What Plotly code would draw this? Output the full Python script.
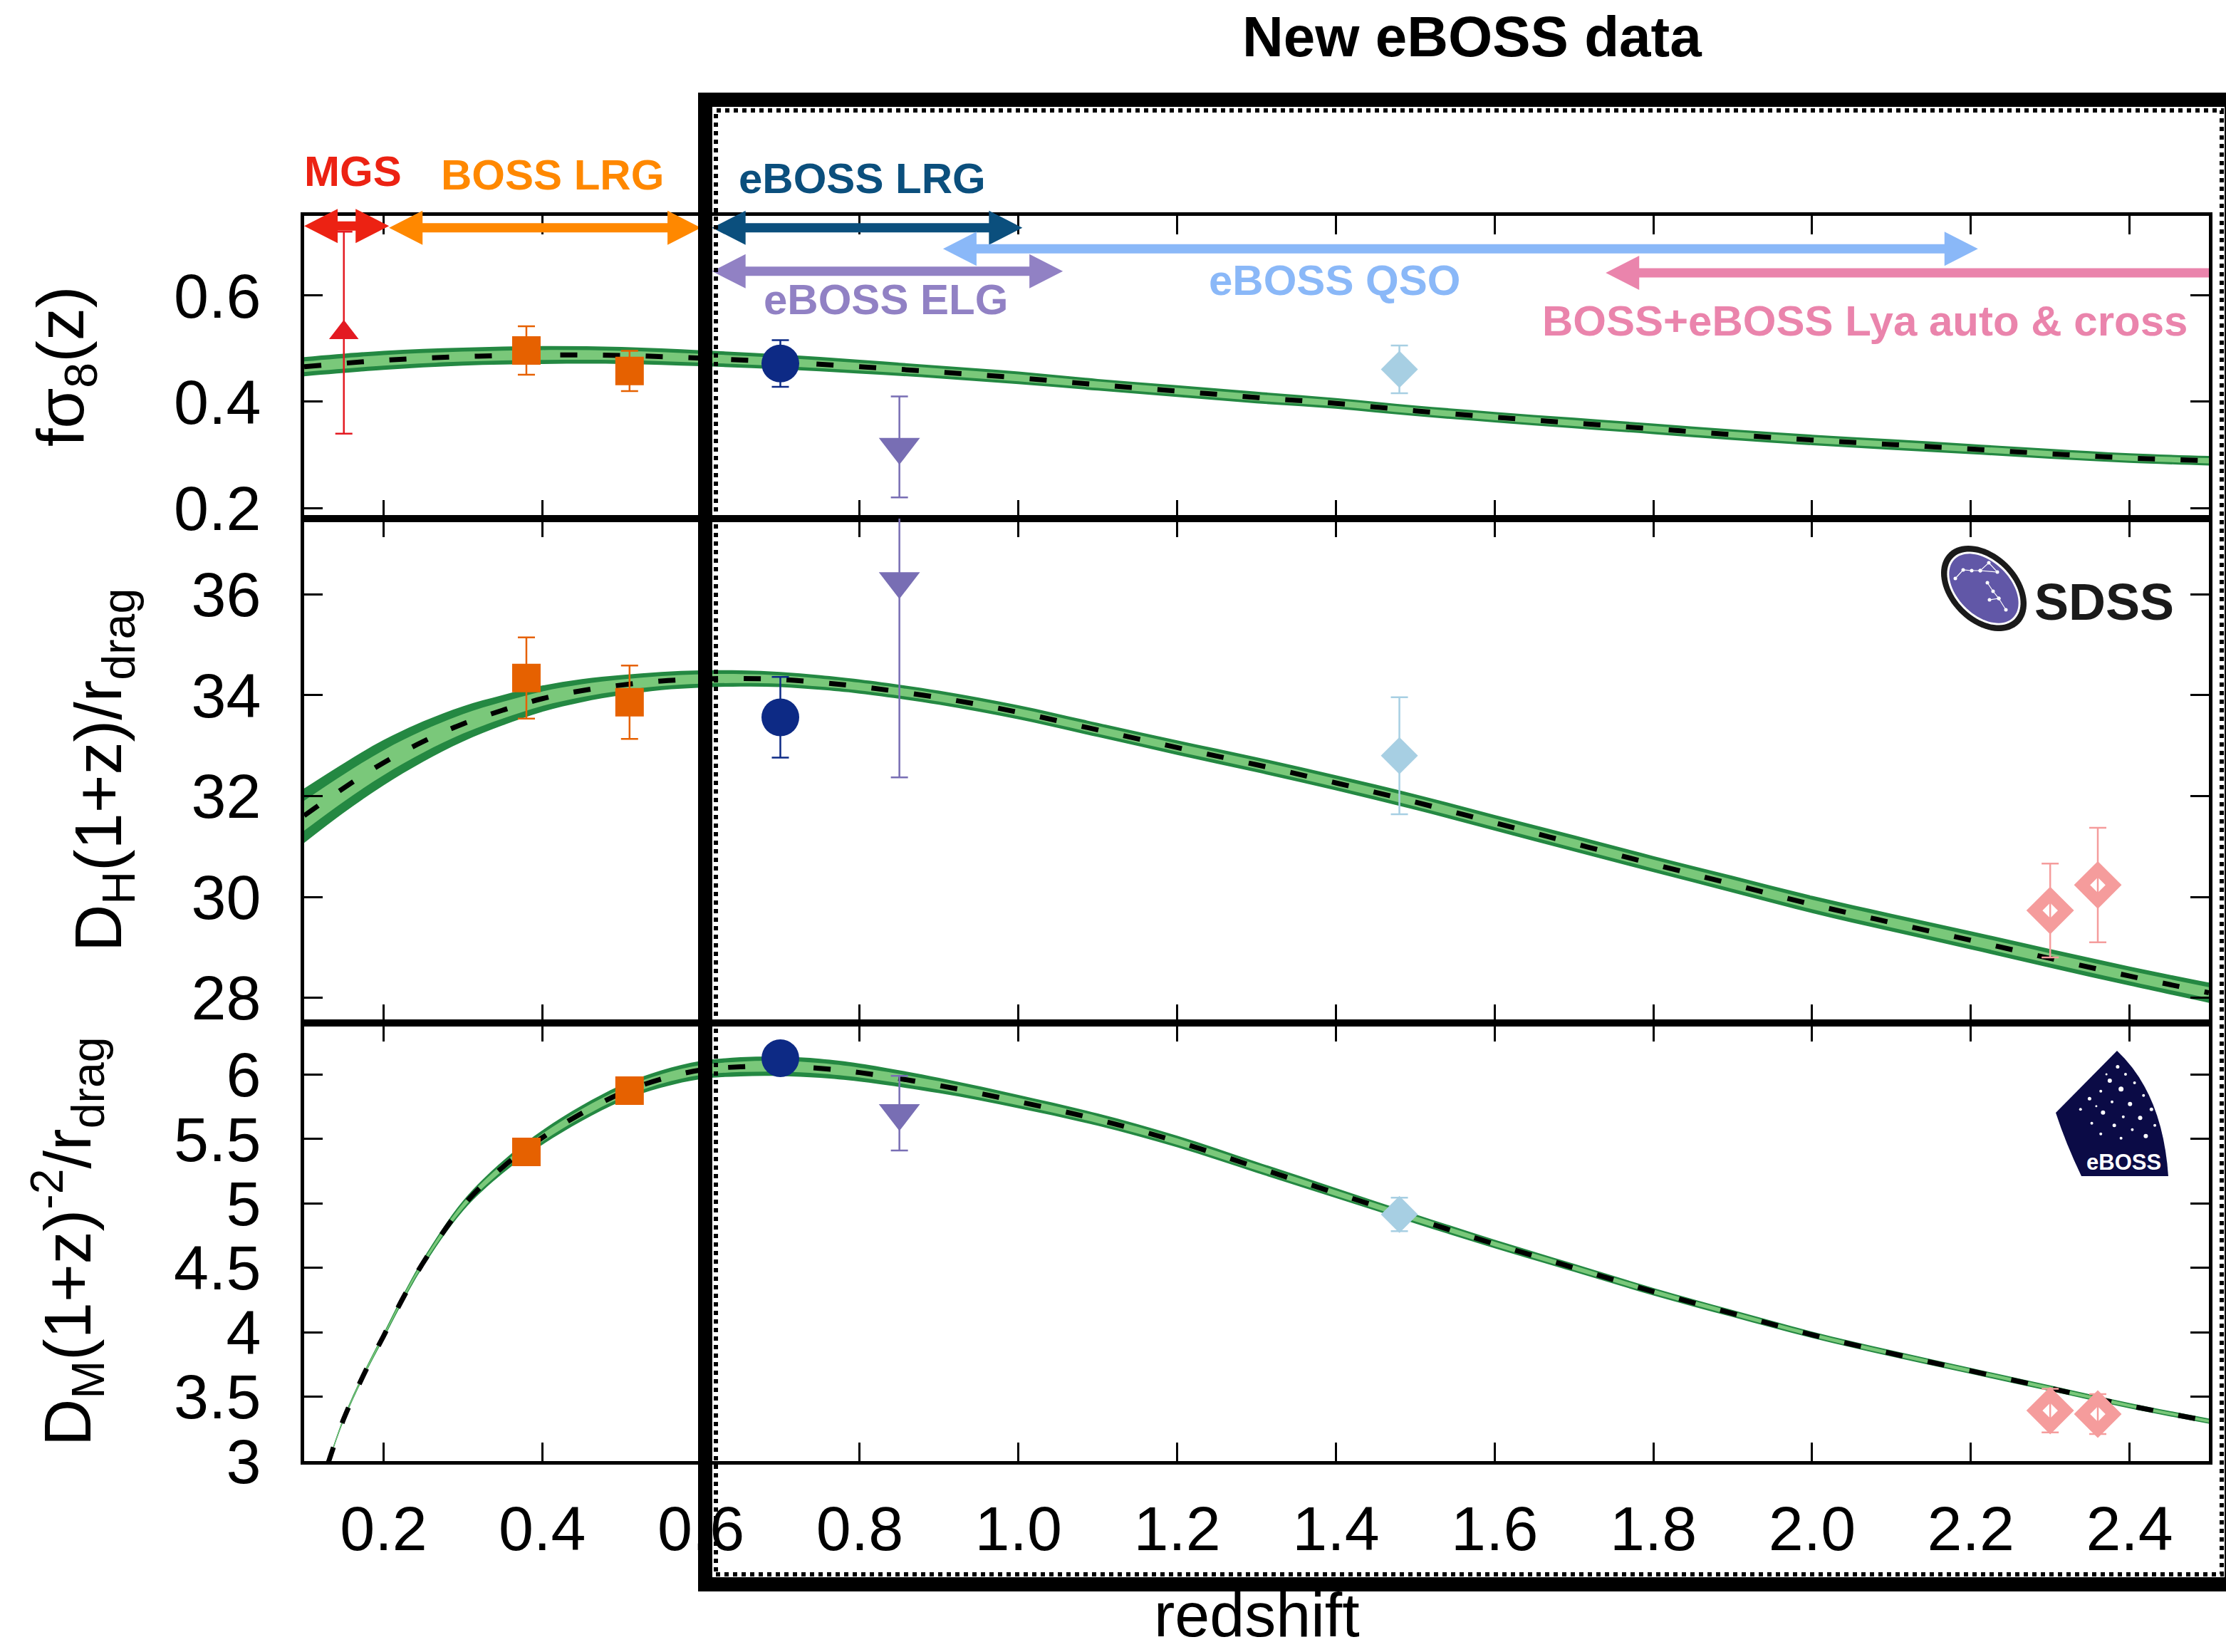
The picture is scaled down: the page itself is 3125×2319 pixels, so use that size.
import numpy as np
import plotly.graph_objects as go
from plotly.subplots import make_subplots

# ------------------------------------------------------------------
# Model prediction: centre line and band half-width
# ------------------------------------------------------------------
z_fs8 = [0.1, 0.2, 0.3, 0.4, 0.5, 0.6, 0.7, 0.8, 0.9, 1.0, 1.1, 1.2, 1.3,
         1.4, 1.5, 1.6, 1.7, 1.8, 1.9, 2.0, 2.1, 2.2, 2.3, 2.4, 2.5]
fs8_model = [0.466, 0.478, 0.485, 0.488, 0.4872, 0.482, 0.475, 0.466, 0.456,
             0.445, 0.432, 0.42, 0.408, 0.397, 0.383, 0.371, 0.36, 0.349,
             0.338, 0.328, 0.3195, 0.311, 0.302, 0.294, 0.289]
fs8_band = [0.018, 0.018, 0.017, 0.017, 0.016, 0.015, 0.014, 0.013, 0.012,
            0.012, 0.011, 0.011, 0.011, 0.010, 0.010, 0.010, 0.010, 0.010,
            0.010, 0.010, 0.010, 0.0095, 0.0095, 0.009, 0.009]

z_dh = [0.1, 0.15, 0.2, 0.25, 0.3, 0.35, 0.4, 0.45, 0.5, 0.55, 0.6, 0.65,
        0.7, 0.75, 0.8, 0.9, 1.0, 1.1, 1.2, 1.3, 1.4, 1.5, 1.6, 1.7, 1.8,
        1.9, 2.0, 2.1, 2.2, 2.3, 2.4, 2.5]
dh_model = [31.61, 32.16, 32.66, 33.08, 33.43, 33.70, 33.93, 34.09, 34.20,
            34.28, 34.32, 34.33, 34.31, 34.25, 34.17, 33.95, 33.66, 33.31,
            32.96, 32.62, 32.26, 31.88, 31.47, 31.06, 30.65, 30.25, 29.85,
            29.49, 29.14, 28.78, 28.43, 28.10]
dh_band = [0.54, 0.49, 0.45, 0.40, 0.35, 0.30, 0.26, 0.23, 0.20, 0.18, 0.17,
           0.16, 0.15, 0.145, 0.14, 0.14, 0.14, 0.14, 0.145, 0.15, 0.15,
           0.155, 0.155, 0.16, 0.16, 0.165, 0.17, 0.175, 0.18, 0.185, 0.19,
           0.20]

z_dm = [0.13, 0.15, 0.175, 0.2, 0.225, 0.25, 0.3, 0.35, 0.4, 0.45, 0.5,
        0.55, 0.6, 0.65, 0.7, 0.75, 0.8, 0.9, 1.0, 1.1, 1.2, 1.3, 1.4, 1.5,
        1.6, 1.7, 1.8, 1.9, 2.0, 2.1, 2.2, 2.3, 2.4, 2.5]
dm_model = [2.98, 3.33, 3.67, 3.97, 4.27, 4.54, 4.98, 5.28, 5.51, 5.70,
            5.856, 5.965, 6.035, 6.06, 6.064, 6.048, 6.015, 5.915, 5.79,
            5.65, 5.48, 5.28, 5.08, 4.88, 4.685, 4.50, 4.315, 4.145, 3.98,
            3.835, 3.70, 3.565, 3.43, 3.31]
dm_band = [0.012, 0.015, 0.018, 0.022, 0.026, 0.030, 0.039, 0.048, 0.056,
           0.060, 0.063, 0.067, 0.070, 0.074, 0.076, 0.074, 0.070, 0.060,
           0.052, 0.048, 0.045, 0.042, 0.039, 0.036, 0.033, 0.031, 0.029,
           0.027, 0.025, 0.024, 0.023, 0.022, 0.021, 0.020]

# ------------------------------------------------------------------
# Measurements
# ------------------------------------------------------------------
mgs_z = [0.15]
mgs_fs8 = [0.53]
mgs_fs8_err = [0.19]

lrg_z = [0.38, 0.51]
lrg_fs8 = [0.4965, 0.458]
lrg_fs8_err = [0.0455, 0.038]
lrg_dh = [34.34, 33.86]
lrg_dh_err = [0.805, 0.728]
lrg_dm = [5.40, 5.875]

elrg_z = [0.70]
elrg_fs8 = [0.472]
elrg_fs8_err = [0.044]
elrg_dh = [33.56]
elrg_dh_err = [0.80]
elrg_dm = [6.126]

elg_z = [0.85]
elg_fs8 = [0.315]
elg_fs8_err = [0.095]
elg_dh = [36.26]
elg_dh_err = [3.89]
elg_dm = [5.70]
elg_dm_err = [0.29]

qso_z = [1.48]
qso_fs8 = [0.461]
qso_fs8_err = [0.045]
qso_dh = [32.80]
qso_dh_err = [1.16]
qso_dm = [4.914]
qso_dm_err = [0.13]

lya_z = [2.30, 2.36]
lya_dh = [29.73, 30.235]
lya_dh_err = [0.93, 1.135]
lya_dm = [3.392, 3.365]
lya_dm_err = [0.169, 0.155]

# survey redshift ranges (arrows in the top panel)
arrow_names = ["MGS", "BOSS LRG", "eBOSS LRG", "eBOSS QSO", "eBOSS ELG",
               "BOSS+eBOSS Lya auto & cross"]
arrow_zmin = [0.1, 0.207, 0.614, 0.905, 0.614, 1.74]
arrow_zmax = [0.207, 0.6, 1.005, 2.209, 1.056, 2.5]
arrow_level = [0.731, 0.7275, 0.7275, 0.688, 0.6456, 0.6426]
arrow_heads = [(True, True), (True, True), (True, True), (True, True),
               (True, True), (True, False)]
arrow_colors = ["#ec2213", "#ff8800", "#0b4f7d", "#8ab8f8", "#9181c4",
                "#ea84ac"]

# x tick values
x_ticks = [0.2, 0.4, 0.6, 0.8, 1.0, 1.2, 1.4, 1.6, 1.8, 2.0, 2.2, 2.4]

# ------------------------------------------------------------------
# Layout geometry
# ------------------------------------------------------------------
W, H = 3125, 2319
PL, PR, PT, PB = 427, 3101, 303, 2051
PW, PH = PR - PL, PB - PT
X_RANGE = [0.1, 2.5]
Y1_RANGE = [0.18, 0.75]
Y2_RANGE = [27.5, 37.5]
Y3_RANGE = [3.0, 6.4]
d1lo = (PB - 728) / PH
d2lo = (PB - 1436) / PH


def xp(px):
    return (px - PL) / PW


def yp(py):
    return (PB - py) / PH


def zx(z):
    return (z - X_RANGE[0]) / (X_RANGE[1] - X_RANGE[0])


def y1p(v):
    return d1lo + (v - Y1_RANGE[0]) / (Y1_RANGE[1] - Y1_RANGE[0]) * (1 - d1lo)


DARK = "#248842"
LIGHT = "#7ac87a"
FONT = "Liberation Sans"

fig = make_subplots(rows=3, cols=1, shared_xaxes=True, vertical_spacing=0)


def add_band(row, z, m, w):
    m = np.array(m)
    w = np.array(w)
    for frac, col in [(1.0, DARK), (0.55, LIGHT)]:
        fig.add_trace(go.Scatter(x=z, y=m + frac * w, mode="lines",
                                 line=dict(width=0, shape="spline"),
                                 hoverinfo="skip", showlegend=False),
                      row=row, col=1)
        fig.add_trace(go.Scatter(x=z, y=m - frac * w, mode="lines",
                                 line=dict(width=0, shape="spline"),
                                 fill="tonexty", fillcolor=col,
                                 hoverinfo="skip", showlegend=False),
                      row=row, col=1)
    fig.add_trace(go.Scatter(x=z, y=m, mode="lines",
                             line=dict(color="black", width=7,
                                       dash="24px,36px", shape="spline"),
                             hoverinfo="skip", showlegend=False),
                  row=row, col=1)


add_band(1, z_fs8, fs8_model, fs8_band)
add_band(2, z_dh, dh_model, dh_band)
add_band(3, z_dm, dm_model, dm_band)


def pts(row, z, y, err, color, symbol, size, lw=0, errcolor=None):
    kw = dict(x=z, y=y, mode="markers", showlegend=False,
              marker=dict(color=color, symbol=symbol, size=size,
                          line=dict(width=lw, color=color)))
    if err is not None:
        kw["error_y"] = dict(type="data", array=err, visible=True,
                             color=errcolor or color, thickness=2.5, width=12)
    fig.add_trace(go.Scatter(**kw), row=row, col=1)


C_MGS = "#e31a22"
C_LRG = "#e66100"
C_ELRG = "#0d2a85"
C_ELG = "#786eb4"
C_QSO = "#a7cfe3"
C_LYA = "#f59c9c"

# panel 1
pts(1, mgs_z, mgs_fs8, mgs_fs8_err, C_MGS, "triangle-up", 36)
pts(1, lrg_z, lrg_fs8, lrg_fs8_err, C_LRG, "square", 40)
pts(1, elrg_z, elrg_fs8, elrg_fs8_err, C_ELRG, "circle", 53)
pts(1, elg_z, elg_fs8, elg_fs8_err, C_ELG, "triangle-down", 50)
pts(1, qso_z, qso_fs8, qso_fs8_err, C_QSO, "diamond", 40)
# panel 2
pts(2, lrg_z, lrg_dh, lrg_dh_err, C_LRG, "square", 40)
pts(2, elrg_z, elrg_dh, elrg_dh_err, C_ELRG, "circle", 53)
pts(2, elg_z, elg_dh, elg_dh_err, C_ELG, "triangle-down", 50)
pts(2, qso_z, qso_dh, qso_dh_err, C_QSO, "diamond", 40)
pts(2, lya_z, lya_dh, lya_dh_err, C_LYA, "diamond-open", 34, lw=16)
# panel 3
pts(3, lrg_z, lrg_dm, None, C_LRG, "square", 40)
pts(3, elrg_z, elrg_dm, None, C_ELRG, "circle", 53)
pts(3, elg_z, elg_dm, elg_dm_err, C_ELG, "triangle-down", 50)
pts(3, qso_z, qso_dm, qso_dm_err, C_QSO, "diamond", 40)
pts(3, lya_z, lya_dm, lya_dm_err, C_LYA, "diamond-open", 34, lw=16)

axis_common = dict(showline=True, linewidth=5, linecolor="black",
                   mirror="allticks", ticks="inside", ticklen=26,
                   tickwidth=2.5, tickcolor="black", showgrid=False,
                   zeroline=False,
                   tickfont=dict(family=FONT, size=88, color="black"))

for i in (1, 2, 3):
    fig.update_xaxes(range=X_RANGE, tickvals=x_ticks, tickformat=".1f",
                     showticklabels=(i == 3), ticklabelstandoff=14,
                     row=i, col=1, **axis_common)

fig.update_yaxes(range=Y1_RANGE, dtick=0.2, tick0=0, ticklabelstandoff=38,
                 row=1, col=1, **axis_common)
fig.update_yaxes(range=Y2_RANGE, dtick=2, tick0=0, ticklabelstandoff=38,
                 row=2, col=1, **axis_common)
fig.update_yaxes(range=Y3_RANGE, dtick=0.5, tick0=0, ticklabelstandoff=38,
                 row=3, col=1, **axis_common)
fig.update_layout(yaxis=dict(domain=[d1lo, 1]),
                  yaxis2=dict(domain=[d2lo, d1lo]),
                  yaxis3=dict(domain=[0, d2lo]))

# ------------------------------------------------------------------
# Shapes: survey arrows
# ------------------------------------------------------------------
shapes = []
HEAD_LEN, HEAD_HALF, SHAFT_HALF = 47, 24, 6.5
hl, hh, sh = HEAD_LEN / PW, HEAD_HALF / PH, SHAFT_HALF / PH
for z0, z1, lev, (hlft, hrgt), col in zip(arrow_zmin, arrow_zmax, arrow_level,
                                         arrow_heads, arrow_colors):
    x0, x1, y = zx(z0), zx(z1), y1p(lev)
    p = []
    if hlft:
        p += [(x0, y), (x0 + hl, y + hh), (x0 + hl, y + sh)]
    else:
        p += [(x0, y + sh)]
    if hrgt:
        p += [(x1 - hl, y + sh), (x1 - hl, y + hh), (x1, y),
              (x1 - hl, y - hh), (x1 - hl, y - sh)]
    else:
        p += [(x1, y + sh), (x1, y - sh)]
    if hlft:
        p += [(x0 + hl, y - sh), (x0 + hl, y - hh)]
    else:
        p += [(x0, y - sh)]
    path = "M" + "L".join(f"{a:.5f},{b:.5f}" for a, b in p) + "Z"
    shapes.append(dict(type="path", path=path, xref="paper", yref="paper",
                       fillcolor=col, line=dict(width=0), layer="above"))

# SDSS logo (ellipse + constellation)
ecx, ecy, ang = 2785, 826, np.deg2rad(45)
t = np.linspace(0, 2 * np.pi, 80)
for a, b, col in [(70, 48, "#1a1a1a"), (61, 40, "white"), (58, 37, "#6157a7")]:
    ex = ecx + a * np.cos(t) * np.cos(ang) - b * np.sin(t) * np.sin(ang)
    ey = ecy + a * np.cos(t) * np.sin(ang) + b * np.sin(t) * np.cos(ang)
    path = "M" + "L".join(f"{xp(u):.5f},{yp(v):.5f}" for u, v in zip(ex, ey)) + "Z"
    shapes.append(dict(type="path", path=path, xref="paper", yref="paper",
                       fillcolor=col, line=dict(width=0), layer="above"))
star_chain = [[(2745, 812), (2756, 800), (2768, 801), (2780, 801), (2792, 790),
               (2804, 803), (2780, 801)],
              [(2790, 818), (2798, 830), (2806, 840), (2816, 856)],
              [(2793, 842), (2806, 840)]]
for chain in star_chain:
    path = "M" + "L".join(f"{xp(u):.5f},{yp(v):.5f}" for u, v in chain)
    shapes.append(dict(type="path", path=path, xref="paper", yref="paper",
                       line=dict(width=1.2, color="white"), layer="above"))
    for u, v in chain:
        shapes.append(dict(type="circle", xref="paper", yref="paper",
                           x0=xp(u - 2.5), x1=xp(u + 2.5), y0=yp(v + 2.5),
                           y1=yp(v - 2.5), fillcolor="white",
                           line=dict(width=0), layer="above"))

# eBOSS logo (fan shape with stars)
fan = (f"M{xp(2972):.5f},{yp(1475):.5f}"
       f"L{xp(2886):.5f},{yp(1562):.5f}"
       f"Q{xp(2900):.5f},{yp(1605):.5f} {xp(2922):.5f},{yp(1651):.5f}"
       f"L{xp(3044):.5f},{yp(1651):.5f}"
       f"Q{xp(3036):.5f},{yp(1535):.5f} {xp(2972):.5f},{yp(1475):.5f}Z")
shapes.append(dict(type="path", path=fan, xref="paper", yref="paper",
                   fillcolor="#0b0b46", line=dict(width=0), layer="above"))
fan_stars = [(0.55, 0.15, 2.5), (0.62, 0.22, 2), (0.48, 0.28, 3), (0.70, 0.30, 2),
             (0.40, 0.38, 2), (0.58, 0.36, 3.5), (0.78, 0.42, 2), (0.30, 0.45, 2.5),
             (0.50, 0.48, 2), (0.66, 0.50, 3), (0.85, 0.55, 2.5), (0.22, 0.55, 2),
             (0.42, 0.58, 3), (0.60, 0.62, 2), (0.75, 0.63, 3), (0.32, 0.68, 2),
             (0.52, 0.70, 2.5), (0.88, 0.70, 2), (0.68, 0.74, 2), (0.40, 0.78, 2),
             (0.80, 0.80, 3), (0.58, 0.82, 2), (0.45, 0.22, 1.5), (0.36, 0.52, 1.5)]
for u, v, r in fan_stars:
    cx = 2886 + u * (3044 - 2886)
    cy = 1475 + v * (1651 - 1475) * 0.85
    shapes.append(dict(type="circle", xref="paper", yref="paper",
                       x0=xp(cx - r), x1=xp(cx + r), y0=yp(cy + r),
                       y1=yp(cy - r), fillcolor="white", line=dict(width=0),
                       layer="above"))

# hand-drawn "New eBOSS data" frame
shapes.append(dict(type="rect", xref="paper", yref="paper",
                   x0=xp(1005), x1=xp(3119), y0=yp(2210), y1=yp(155),
                   line=dict(color="black", width=6, dash="dot"), layer="above"))
shapes.append(dict(type="rect", xref="paper", yref="paper",
                   x0=xp(990), x1=xp(3133), y0=yp(2224), y1=yp(140),
                   line=dict(color="black", width=20), layer="above"))

# ------------------------------------------------------------------
# Text
# ------------------------------------------------------------------
ann = []


def text(s, px_, py_, size, color="black", angle=0, bold=False, yanchor="middle"):
    ann.append(dict(text=f"<b>{s}</b>" if bold else s, x=xp(px_), y=yp(py_),
                    xref="paper", yref="paper", xanchor="center",
                    yanchor=yanchor, showarrow=False, textangle=angle,
                    font=dict(family=FONT, size=size, color=color)))


text("New eBOSS data", 2066, 52, 80, bold=True)
label_pos = [(495, 241), (775, 245), (1210, 251), (1873, 393), (1243, 420),
             (2618, 451)]
for name, (lx, ly), col in zip(arrow_names, label_pos, arrow_colors):
    text(name, lx, ly, 60, col, bold=True)

text("SDSS", 2954, 845, 72, "#1a1a1a", bold=True)
text("eBOSS", 2981, 1631, 31, "white", bold=True)

text("fσ<sub>8</sub>(z)", 92, 515, 92, angle=-90)
text("D<sub>H</sub>(1+z)/r<sub>drag</sub>", 145, 1081, 92, angle=-90)
text("D<sub>M</sub>(1+z)<sup>-2</sup>/r<sub>drag</sub>", 95, 1743, 92, angle=-90)
text("redshift", 1764, 2318, 88, yanchor="bottom")

fig.update_layout(width=W, height=H,
                  margin=dict(l=PL, r=W - PR, t=PT, b=H - PB),
                  plot_bgcolor="white", paper_bgcolor="white",
                  showlegend=False, shapes=shapes, annotations=ann,
                  font=dict(family=FONT, color="black"))

fig.write_html("out.html")
